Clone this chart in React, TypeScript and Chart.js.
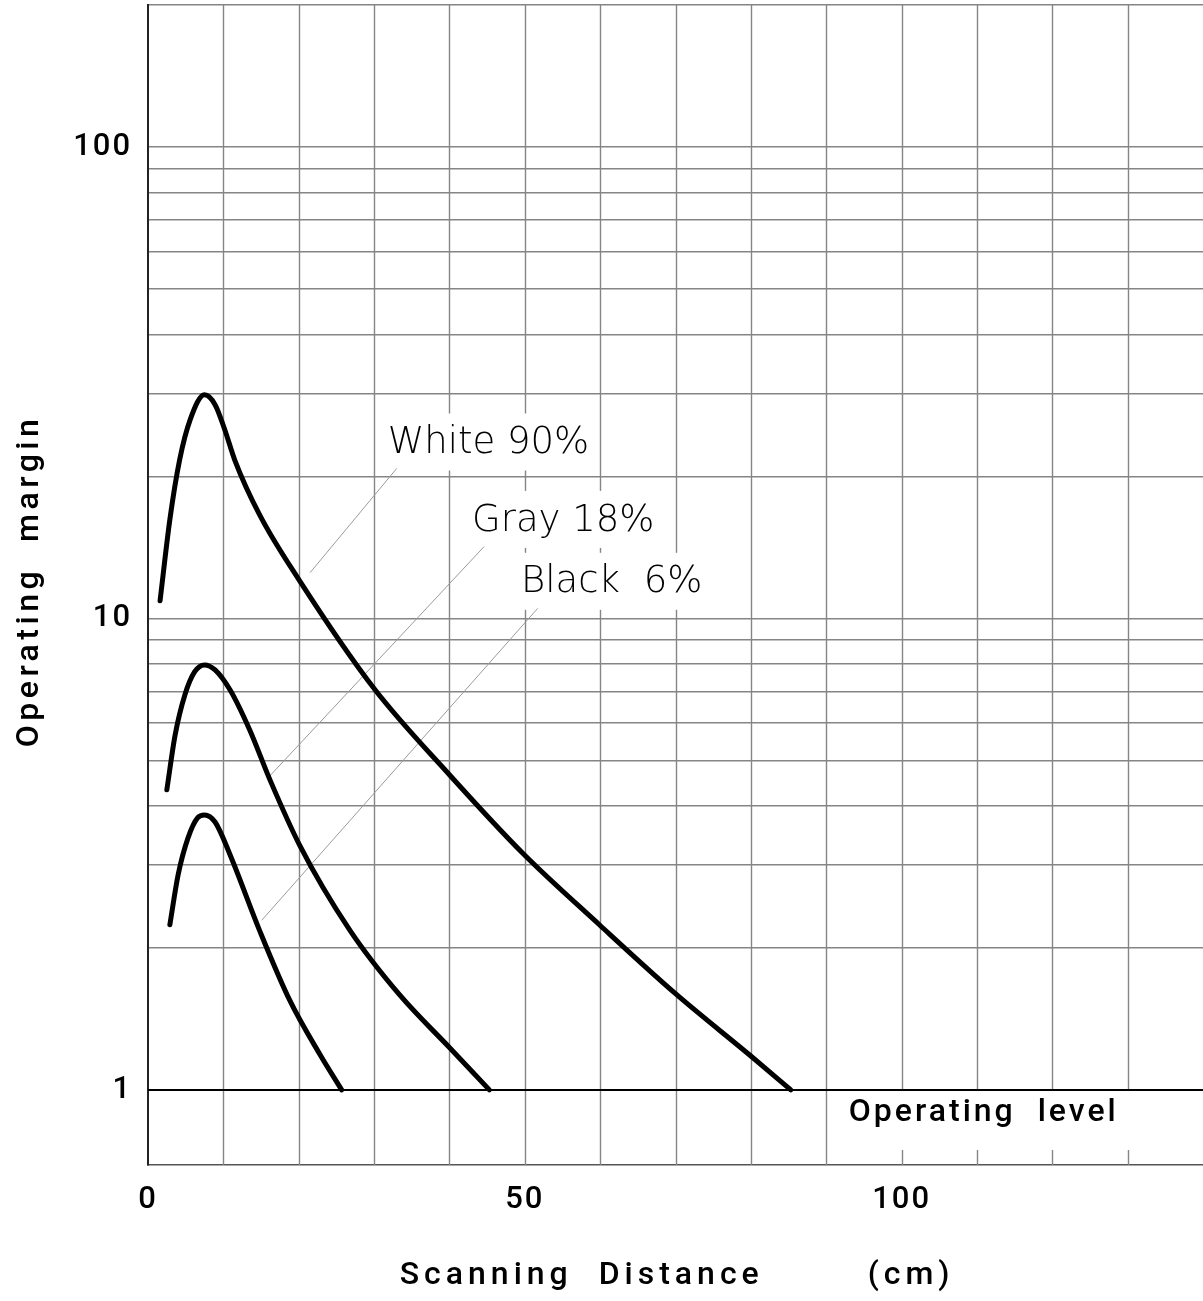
import React, { useEffect, useRef } from 'react';
import { Chart, registerables } from 'chart.js';

Chart.register(...registerables);

// ---- data ----
const whiteX = [1.6, 2.9, 4.2, 5.6, 7.5, 8.9, 10.2, 11.5, 14.8, 20.0, 30.0, 40.0, 49.7, 59.9, 70.0, 80.0, 85.3];
const whiteY = [10.9, 16.2, 21.7, 26.4, 29.8, 28.4, 25.1, 21.7, 16.6, 12.1, 7.1, 4.66, 3.18, 2.24, 1.6, 1.18, 1.0];

const grayX = [2.5, 3.6, 4.9, 6.2, 7.5, 8.9, 10.9, 13.5, 16.2, 20.1, 26.8, 33.4, 40.0, 45.3];
const grayY = [4.33, 5.66, 6.89, 7.71, 7.97, 7.78, 7.05, 5.8, 4.54, 3.31, 2.18, 1.59, 1.23, 1.0];

const blackX = [2.9, 4.0, 5.3, 6.6, 7.5, 8.9, 10.9, 14.8, 18.8, 22.8, 25.7];
const blackY = [2.24, 2.86, 3.42, 3.78, 3.83, 3.7, 3.15, 2.18, 1.55, 1.19, 1.0];

const xTickValues = [0, 10, 20, 30, 40, 50, 60, 70, 80, 90, 100, 110, 120, 130, 140];
const xTickLabels = ['0', '50', '100'];
const yGridValues = [1, 2, 3, 4, 5, 6, 7, 8, 9, 10, 20, 30, 40, 50, 60, 70, 80, 90, 100, 200];
const yTickLabels = ['1', '10', '100'];

const seriesLabels = ['White 90%', 'Gray 18%', 'Black 6%'];
const labelWordGap = [0, 0, 12];
const labelLeftX = [31.8, 43.0, 49.5];
const labelMidY = [23.5, 16.1, 11.9];
const leaderFromX = [21.5, 16.2, 15.1];
const leaderFromY = [12.5, 4.64, 2.29];
const leaderToX = [33.0, 44.6, 51.7];
const leaderToY = [20.8, 14.2, 10.5];

const xTitle = 'Scanning  Distance';
const xUnit = '(cm)';
const xTitleAt = 33.4;
const xUnitAt = 95.5;
const yTitle = 'Operating  margin';
const levelText = 'Operating  level';
const levelAt = 93.0;

const X_MIN = 0;
const X_MAX = 140;
const Y_MIN = 0.693;
const Y_MAX = 200;

const SANS = 'Roboto, "Liberation Sans", sans-serif';

const toPoints = (xs: number[], ys: number[]) => xs.map((x, i) => ({ x, y: ys[i] }));

const zeroPadding = (s: any) => {
  s.paddingLeft = 0;
  s.paddingRight = 0;
  s.paddingTop = 0;
  s.paddingBottom = 0;
};

const annotations = {
  id: 'annotations',
  beforeDraw(chart: any) {
    (chart.ctx as any).letterSpacing = '2px';
  },
  beforeDatasetsDraw(chart: any) {
    const { ctx, chartArea, scales } = chart;
    const xs = scales.x;
    const ys = scales.y;
    const y1 = ys.getPixelForValue(1);
    ctx.save();
    // vertical grid lines
    ctx.strokeStyle = '#858585';
    ctx.lineWidth = 1.4;
    xTickValues.forEach((v) => {
      if (v === X_MIN || v === X_MAX) return;
      const px = Math.round(xs.getPixelForValue(v)) + 0.5;
      ctx.beginPath();
      if (v < 100) {
        ctx.moveTo(px, chartArea.top);
        ctx.lineTo(px, chartArea.bottom);
      } else {
        ctx.moveTo(px, chartArea.top);
        ctx.lineTo(px, y1);
        ctx.moveTo(px, chartArea.bottom - 15);
        ctx.lineTo(px, chartArea.bottom);
      }
      ctx.stroke();
    });
    // operating level line
    ctx.strokeStyle = '#000';
    ctx.lineWidth = 2;
    ctx.beginPath();
    ctx.moveTo(chartArea.left, y1);
    ctx.lineTo(chartArea.right, y1);
    ctx.stroke();

    // label masks & labels
    (ctx as any).letterSpacing = '0px';
    ctx.font = '200 37px "DejaVu Sans"';
    ctx.textBaseline = 'middle';
    ctx.textAlign = 'left';
    seriesLabels.forEach((t, i) => {
      (ctx as any).wordSpacing = `${labelWordGap[i]}px`;
      const lx = xs.getPixelForValue(labelLeftX[i]);
      const ly = ys.getPixelForValue(labelMidY[i]);
      const w = ctx.measureText(t).width;
      ctx.fillStyle = '#fff';
      ctx.fillRect(lx - 7, ly - 30, w + 14, 57);
    });
    seriesLabels.forEach((t, i) => {
      (ctx as any).wordSpacing = `${labelWordGap[i]}px`;
      const lx = xs.getPixelForValue(labelLeftX[i]);
      const ly = ys.getPixelForValue(labelMidY[i]);
      ctx.fillStyle = '#000';
      ctx.fillText(t, lx, ly);
      ctx.strokeStyle = '#9a9a9a';
      ctx.lineWidth = 1;
      ctx.beginPath();
      ctx.moveTo(xs.getPixelForValue(leaderFromX[i]), ys.getPixelForValue(leaderFromY[i]));
      ctx.lineTo(xs.getPixelForValue(leaderToX[i]), ys.getPixelForValue(leaderToY[i]));
      ctx.stroke();
    });
    (ctx as any).wordSpacing = '0px';

    // operating level text
    ctx.fillStyle = '#000';
    ctx.font = `500 32px ${SANS}`;
    (ctx as any).letterSpacing = '3px';
    ctx.fillText(levelText, xs.getPixelForValue(levelAt), y1 + 23);
    ctx.restore();
  },
  afterDraw(chart: any) {
    const { ctx, chartArea, scales } = chart;
    const xs = scales.x;
    ctx.save();
    ctx.fillStyle = '#000';
    ctx.font = `500 32px ${SANS}`;
    (ctx as any).letterSpacing = '5px';
    ctx.textBaseline = 'middle';
    ctx.textAlign = 'left';
    ctx.fillText(xTitle, xs.getPixelForValue(xTitleAt), chart.height - 25);
    ctx.fillText(xUnit, xs.getPixelForValue(xUnitAt), chart.height - 25);
    (ctx as any).letterSpacing = '4.5px';
    ctx.translate(30, (chartArea.top + chartArea.bottom) / 2 - 4);
    ctx.rotate(-Math.PI / 2);
    ctx.textAlign = 'center';
    ctx.fillText(yTitle, 0, 0);
    ctx.restore();
  },
};

export default function App() {
  const ref = useRef<HTMLCanvasElement | null>(null);
  useEffect(() => {
    if (!ref.current) return;
    const lineStyle = {
      borderColor: '#000',
      borderWidth: 5,
      pointRadius: 0,
      fill: false,
      cubicInterpolationMode: 'monotone' as const,
      borderCapStyle: 'round' as const,
      borderJoinStyle: 'round' as const,
    };
    const chart = new Chart(ref.current, {
      type: 'line',
      data: {
        datasets: [
          { label: seriesLabels[0], data: toPoints(whiteX, whiteY), ...lineStyle },
          { label: seriesLabels[1], data: toPoints(grayX, grayY), ...lineStyle },
          { label: seriesLabels[2], data: toPoints(blackX, blackY), ...lineStyle },
        ],
      },
      options: {
        responsive: false,
        animation: false,
        devicePixelRatio: 1,
        layout: { padding: { top: 5, left: 0, right: 0, bottom: 0 } },
        plugins: { legend: { display: false }, tooltip: { enabled: false } },
        scales: {
          x: {
            type: 'linear',
            min: X_MIN,
            max: X_MAX,
            afterBuildTicks: (s: any) => {
              s.ticks = xTickValues.map((v) => ({ value: v }));
            },
            afterFit: (s: any) => {
              s.height = 136;
              zeroPadding(s);
            },
            grid: { display: false, drawTicks: false },
            border: { display: true, color: '#555', width: 1.5 },
            ticks: {
              autoSkip: false,
              maxRotation: 0,
              padding: 17,
              color: '#000',
              font: { family: SANS, size: 31, weight: '500' },
              callback: (v: any) => (xTickLabels.includes(String(v)) ? String(v) : ''),
            },
          },
          y: {
            type: 'logarithmic',
            min: Y_MIN,
            max: Y_MAX,
            afterBuildTicks: (s: any) => {
              s.ticks = yGridValues.map((v) => ({ value: v }));
            },
            afterFit: (s: any) => {
              s.width = 148;
              zeroPadding(s);
            },
            grid: {
              drawTicks: false,
              color: '#858585',
              lineWidth: 1.4,
            },
            border: { display: true, color: '#222', width: 2 },
            ticks: {
              autoSkip: false,
              padding: 16,
              color: '#000',
              font: { family: SANS, size: 31, weight: '500' },
              callback: (v: any) => (yTickLabels.includes(String(v)) ? String(v) : ''),
            },
          },
        },
      },
      plugins: [annotations],
    });
    return () => chart.destroy();
  }, []);
  return (
    <div style={{ position: 'absolute', left: 0, top: 0, width: 1203, height: 1301, background: '#fff' }}>
      <canvas ref={ref} width={1203} height={1301} style={{ display: 'block', width: 1203, height: 1301 }} />
    </div>
  );
}
